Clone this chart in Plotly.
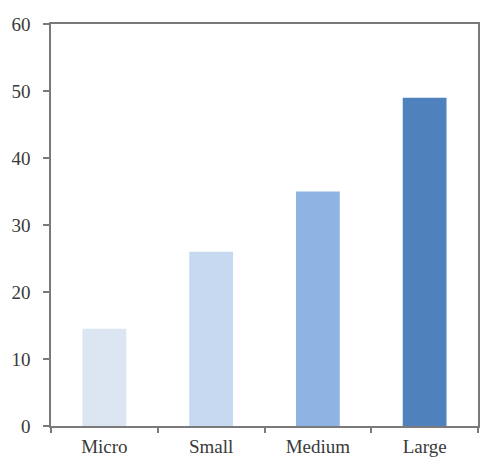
import plotly.graph_objects as go

categories = ["Micro", "Small", "Medium", "Large"]
values = [14.5, 26, 35, 49]
colors = ["#DCE6F2", "#C6D9F1", "#8EB4E3", "#4F81BD"]
y_ticks = [0, 10, 20, 30, 40, 50, 60]

fig = go.Figure(go.Bar(x=categories, y=values, marker=dict(color=colors, line=dict(width=0)), width=0.41))

axis_line = "#7a7a7a"
fig.update_layout(
    width=480, height=459,
    margin=dict(l=51, r=0, t=24, b=33),
    paper_bgcolor="white", plot_bgcolor="white",
    showlegend=False,
    font=dict(family="Liberation Serif, Times New Roman, serif", size=19, color="#3a3a3a"),
)
fig.update_xaxes(
    showline=True, linecolor=axis_line, linewidth=1.5, mirror=True,
    ticks="outside", tickson="boundaries", ticklen=5, tickcolor=axis_line, tickwidth=1.5,
    showgrid=False, tickfont=dict(size=19), ticklabelstandoff=2,
)
fig.update_yaxes(
    range=[0, 60], tickvals=y_ticks, showline=True, linecolor=axis_line, linewidth=1.5, mirror=True,
    ticks="outside", ticklen=6, tickcolor=axis_line, tickwidth=1.5, showgrid=False, zeroline=False,
    tickfont=dict(size=19), ticklabelstandoff=9,
)
fig.write_html("out.html", config={"displayModeBar": False},
               post_script="document.body.style.margin='0';document.body.style.padding='0';")
